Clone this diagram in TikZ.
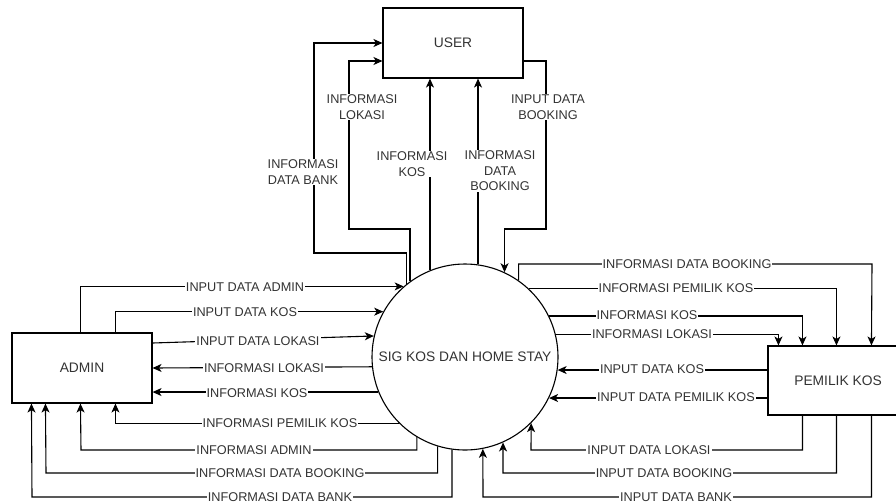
\documentclass[tikz,border=0pt]{standalone}
\usepackage{fontspec}
\setmainfont{Liberation Sans}
\usetikzlibrary{arrows.meta,calc}
\definecolor{txt}{HTML}{333333}
\tikzset{
  flow/.style={draw=black, line width=1.1pt, -{Stealth[length=9pt,width=8pt,inset=2.5pt]}},
  ent/.style={draw=black, line width=1.1pt, fill=white, minimum width=140pt, minimum height=70pt, inner sep=0pt, text=txt, font=\fontsize{13.8}{15}\selectfont},
  lbl/.style={fill=white, inner sep=1pt, text=txt, align=center, font=\fontsize{12.7}{15.5}\selectfont}
}
\begin{document}
\begin{tikzpicture}[x=1pt,y=-1pt]
\useasboundingbox (0,0) rectangle (896,501);
\node[ent] (user) at (453,43) {USER};
\node[ent] (admin) at (82,368) {ADMIN};
\node[ent, minimum height=69pt] (pem) at (838,380.5) {PEMILIK KOS};
\node[draw=black, line width=1.1pt, circle, minimum size=186pt, inner sep=0pt, fill=white, text=txt, font=\fontsize{13.8}{15}\selectfont] (sig) at (465,357) {SIG KOS DAN HOME STAY};

% top
\draw[flow] (sig.129.4) |- (314,253) |- (user.west);
\draw[flow] (sig.126.3) |- (349,229) |- ($(user.west)+(0,18)$);
\draw[flow] (sig.112.1) -- (sig.112.1 |- user.south);
\draw[flow] (sig.82) -- (sig.82 |- user.south);
\draw[flow] ($(user.east)+(0,18)$) -| (546,229) -| (sig.65.9);

% left
\draw[flow] ($(admin.north west)+(69,0)$) |- (sig.131.2);
\draw[flow] ($(admin.north west)+(104,0)$) |- (sig.151.1);
\draw[flow] ($(admin.east)+(0,-25)$) -- (sig.167.6);
\draw[flow] (sig.186.8) -- (admin.east);
\draw[flow] (sig.202.8) -- (sig.202.8 -| admin.east);
\draw[flow] (sig.225.2) -| ($(admin.south west)+(104,0)$);
\draw[flow] (sig.239.6) |- (81,450) -- ($(admin.south west)+(69,0)$);
\draw[flow] (sig.253.8) |- (46,473) -- ($(admin.south west)+(34,0)$);
\draw[flow] (sig.262.6) |- (32,497) -- ($(admin.south west)+(20,0)$);

% right
\draw[flow] (sig.55.3) |- (872,264) -- ($(pem.north west)+(104,0)$);
\draw[flow] (sig.47.9) -| ($(pem.north west)+(69,0)$);
\draw[flow] (sig.26.8) -| ($(pem.north west)+(35,0)$);
\draw[flow] (sig.14.3) -| ($(pem.north west)+(11,0)$);
\draw[flow] (pem.west |- sig.352.6) -- (sig.352.6);
\draw[flow] (pem.west |- sig.334.5) -- (sig.334.5);
\draw[flow] ($(pem.south west)+(35,0)$) |- (531,450) -- (sig.315.2);
\draw[flow] ($(pem.south west)+(69,0)$) |- (503,473) -- (sig.294.1);
\draw[flow] ($(pem.south west)+(104,0)$) |- (483,497) -- (sig.281.2);

% labels top
\node[lbl] (t1) at (303,172) {INFORMASI\\DATA BANK};
\node[lbl] (t2) at (362,107) {INFORMASI\\LOKASI};
\node[lbl] (t3) at (412,164) {INFORMASI\\KOS};
\node[lbl] (t4) at (500,171) {INFORMASI\\DATA\\BOOKING};
\node[lbl] (t5) at (548,107) {INPUT DATA\\BOOKING};

% labels left
\node[lbl] (a1) at (245,287) {INPUT DATA ADMIN};
\node[lbl] (a2) at (245,312) {INPUT DATA KOS};
\node[lbl] (a3) at (258,341) {INPUT DATA LOKASI};
\node[lbl] (a4) at (264,368) {INFORMASI LOKASI};
\node[lbl] (a5) at (257,393) {INFORMASI KOS};
\node[lbl] (a6) at (280,423) {INFORMASI PEMILIK KOS};
\node[lbl] (a7) at (254,450) {INFORMASI ADMIN};
\node[lbl] (a8) at (280,473) {INFORMASI DATA BOOKING};
\node[lbl] (a9) at (280,497) {INFORMASI DATA BANK};

% labels right
\node[lbl] (p1) at (687,264) {INFORMASI DATA BOOKING};
\node[lbl] (p2) at (676,288) {INFORMASI PEMILIK KOS};
\node[lbl] (p3) at (647,315) {INFORMASI KOS};
\node[lbl] (p4) at (652,334) {INFORMASI LOKASI};
\node[lbl] (p5) at (652,369) {INPUT DATA KOS};
\node[lbl] (p6) at (676,397) {INPUT DATA PEMILIK KOS};
\node[lbl] (p7) at (649,450) {INPUT DATA LOKASI};
\node[lbl] (p8) at (664,473) {INPUT DATA BOOKING};
\node[lbl] (p9) at (676,497) {INPUT DATA BANK};
\end{tikzpicture}
\end{document}
